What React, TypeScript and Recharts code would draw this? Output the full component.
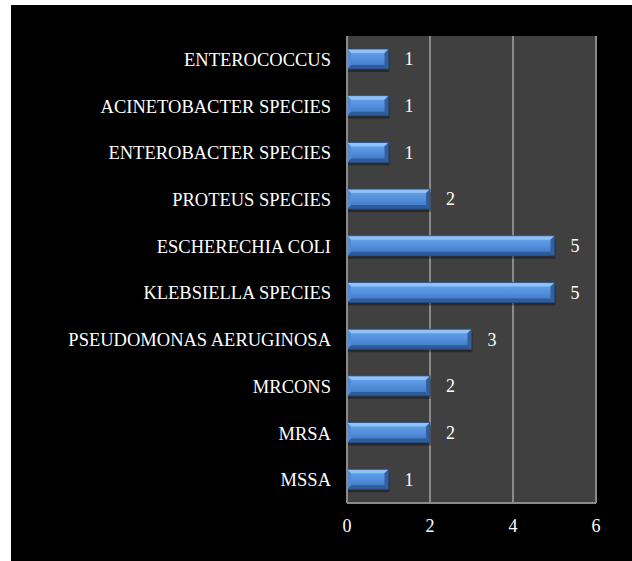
import React from "react"
import { BarChart, Bar, XAxis, YAxis, CartesianGrid, LabelList } from "recharts"

const organisms = [
  "ENTEROCOCCUS",
  "ACINETOBACTER SPECIES",
  "ENTEROBACTER SPECIES",
  "PROTEUS SPECIES",
  "ESCHERECHIA COLI",
  "KLEBSIELLA SPECIES",
  "PSEUDOMONAS AERUGINOSA",
  "MRCONS",
  "MRSA",
  "MSSA",
]
const counts = [1, 1, 1, 2, 5, 5, 3, 2, 2, 1]
const xTicks = [0, 2, 4, 6]

const data = organisms.map((name, i) => ({ name, count: counts[i] }))

const serif = "Liberation Serif, Times New Roman, serif"

function BevelBar(props: any) {
  const { x, y, width, height } = props
  if (!width || width <= 0) return null
  const b = 4
  const w = width
  const h = height
  return (
    <g>
      <rect x={x + 1} y={y + 3} width={w} height={h} fill="#000" opacity={0.35} />
      <rect x={x} y={y} width={w} height={h} fill="url(#barFill)" />
      <polygon points={`${x},${y} ${x + w},${y} ${x + w - b},${y + b} ${x + b},${y + b}`} fill="#8fc2f7" />
      <polygon points={`${x},${y + h} ${x + w},${y + h} ${x + w - b},${y + h - b} ${x + b},${y + h - b}`} fill="#2d5c9c" />
      <polygon points={`${x},${y} ${x + b},${y + b} ${x + b},${y + h - b} ${x},${y + h}`} fill="#4f8ad4" />
      <polygon points={`${x + w},${y} ${x + w - b},${y + b} ${x + w - b},${y + h - b} ${x + w},${y + h}`} fill="#365f99" />
      <rect x={x} y={y} width={w} height={h} fill="none" stroke="#24497d" strokeWidth={0.8} />
    </g>
  )
}

export default function App() {
  return (
    <div style={{ position: "absolute", left: 0, top: 0, width: 632, height: 561, background: "#fff" }}>
      <div style={{ position: "absolute", left: 11, top: 5, width: 621, height: 556, background: "#000" }}>
        <BarChart
          width={621}
          height={556}
          data={data}
          layout="vertical"
          barSize={20}
          margin={{ top: 31, right: 36, bottom: 28, left: 0 }}
          style={{ fontFamily: serif }}
        >
          <defs>
            <linearGradient id="barFill" x1="0" y1="0" x2="0" y2="1">
              <stop offset="0%" stopColor="#6aa6ec" />
              <stop offset="45%" stopColor="#5592df" />
              <stop offset="100%" stopColor="#3c72bd" />
            </linearGradient>
          </defs>
          <CartesianGrid
            fill="#404040"
            stroke="#8a8a8a"
            strokeWidth={2}
            horizontal={false}
          />
          <XAxis
            type="number"
            domain={[0, 6]}
            ticks={xTicks}
            tickLine={false}
            axisLine={{ stroke: "#8a8a8a", strokeWidth: 2 }}
            tickSize={0}
            tickMargin={16}
            height={30}
            tick={{ fill: "#fff", fontSize: 18, fontFamily: serif }}
          />
          <YAxis
            type="category"
            dataKey="name"
            width={336}
            tickLine={false}
            axisLine={{ stroke: "#8a8a8a", strokeWidth: 2 }}
            tickSize={0}
            tickMargin={16}
            interval={0}
            tick={{ fill: "#fff", fontSize: 18.5, fontFamily: serif }}
          />
          <Bar dataKey="count" shape={<BevelBar />} isAnimationActive={false}>
            <LabelList
              dataKey="count"
              position="right"
              offset={16}
              fill="#fff"
              fontSize={18}
              fontFamily={serif}
            />
          </Bar>
        </BarChart>
      </div>
    </div>
  )
}
